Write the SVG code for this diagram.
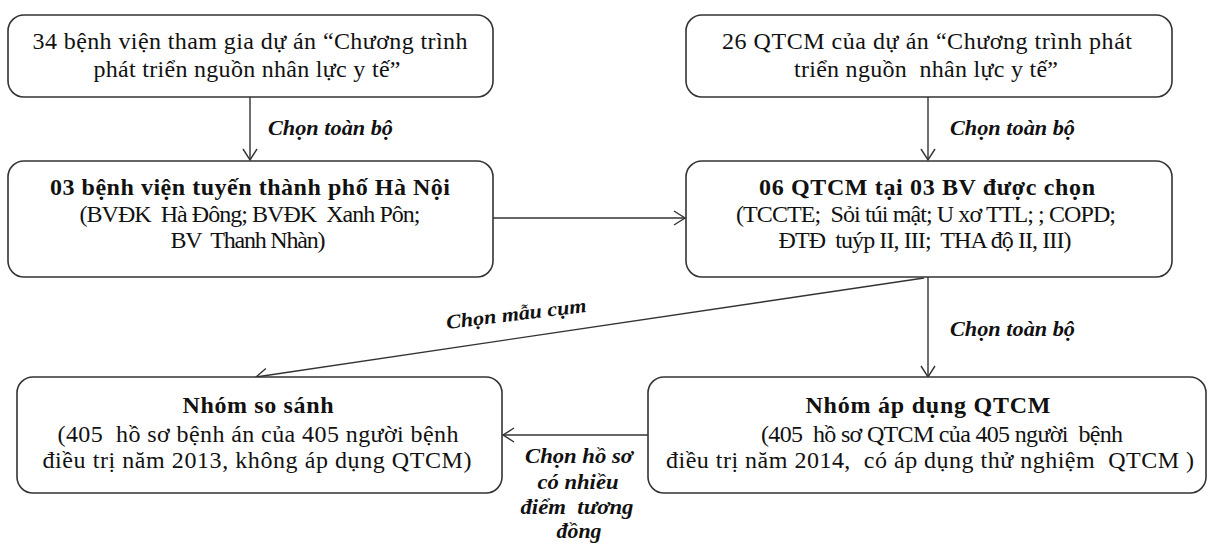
<svg xmlns="http://www.w3.org/2000/svg" width="1211" height="545" viewBox="0 0 1211 545">
<style>
.box{fill:#fff;stroke:#333;stroke-width:1.6}
.t{font-family:"Liberation Serif","Times New Roman",serif;font-size:24px;fill:#111;text-anchor:middle;white-space:pre}
.b{font-weight:bold}
.lbl{font-family:"Liberation Serif","Times New Roman",serif;font-size:20px;font-weight:bold;font-style:italic;fill:#111;white-space:pre}
.m{text-anchor:middle}
.c{fill:none;stroke:#333;stroke-width:1.4}
</style>
<defs>
<marker id="arr" markerUnits="userSpaceOnUse" markerWidth="14" markerHeight="16" refX="12" refY="8" orient="auto">
<path d="M1,1 L12,8 L1,15" fill="none" stroke="#333" stroke-width="1.4"/>
</marker>
</defs>
<rect width="1211" height="545" fill="#fff"/>
<g id="connectors">
<line class="c" x1="250" y1="97" x2="250" y2="160" marker-end="url(#arr)"/>
<line class="c" x1="928" y1="97" x2="928" y2="160" marker-end="url(#arr)"/>
<line class="c" x1="493" y1="218" x2="685" y2="218" marker-end="url(#arr)"/>
<line class="c" x1="928" y1="277" x2="928" y2="377" marker-end="url(#arr)"/>
<line class="c" x1="924" y1="278" x2="256" y2="377" marker-end="url(#arr)"/>
<line class="c" x1="648" y1="435" x2="503" y2="435" marker-end="url(#arr)"/>
<text class="lbl" x="268" y="135" textLength="125" lengthAdjust="spacingAndGlyphs">Chọn toàn bộ</text>
<text class="lbl" x="950" y="135" textLength="125" lengthAdjust="spacingAndGlyphs">Chọn toàn bộ</text>
<text class="lbl" x="950" y="336" textLength="125" lengthAdjust="spacingAndGlyphs">Chọn toàn bộ</text>
<text class="lbl" transform="translate(447,329) rotate(-7)" textLength="141" lengthAdjust="spacingAndGlyphs">Chọn mẫu cụm</text>
<text class="lbl m" x="579" y="463" textLength="108" lengthAdjust="spacingAndGlyphs">Chọn hồ sơ</text>
<text class="lbl m" x="578" y="489" textLength="81" lengthAdjust="spacingAndGlyphs">có nhiều</text>
<text class="lbl m" x="577" y="514" textLength="113" lengthAdjust="spacingAndGlyphs">điểm  tương</text>
<text class="lbl m" x="579" y="538" textLength="45" lengthAdjust="spacingAndGlyphs">đồng</text>
</g>
<g id="n1">
<rect class="box" x="8" y="15" width="485" height="82" rx="16"/>
<text class="t" x="250" y="49" textLength="435">34 bệnh viện tham gia dự án “Chương trình</text>
<text class="t" x="247" y="77" textLength="307">phát triển nguồn nhân lực y tế”</text>
</g>
<g id="n2">
<rect class="box" x="8" y="161" width="485" height="116" rx="16"/>
<text class="t b" x="250" y="195" textLength="400">03 bệnh viện tuyến thành phố Hà Nội</text>
<text class="t" x="250" y="222" textLength="341">(BVĐK  Hà Đông; BVĐK  Xanh Pôn;</text>
<text class="t" x="248" y="248" textLength="155">BV  Thanh Nhàn)</text>
</g>
<g id="n3">
<rect class="box" x="686" y="15" width="486" height="82" rx="16"/>
<text class="t" x="927" y="49" textLength="410">26 QTCM của dự án “Chương trình phát</text>
<text class="t" x="926" y="77" textLength="264">triển nguồn  nhân lực y tế”</text>
</g>
<g id="n4">
<rect class="box" x="686" y="161" width="486" height="116" rx="16"/>
<text class="t b" x="927" y="195" textLength="336">06 QTCM tại 03 BV được chọn</text>
<text class="t" x="926" y="222" textLength="380">(TCCTE;  Sỏi túi mật; U xơ TTL; ; COPD;</text>
<text class="t" x="925" y="248" textLength="293">ĐTĐ  tuýp II, III;  THA độ II, III)</text>
</g>
<g id="n5">
<rect class="box" x="17" y="377" width="485" height="116" rx="16"/>
<text class="t b" x="258" y="413" textLength="151">Nhóm so sánh</text>
<text class="t" x="258" y="442" textLength="401">(405  hồ sơ bệnh án của 405 người bệnh</text>
<text class="t" x="257" y="468" textLength="429">điều trị năm 2013, không áp dụng QTCM)</text>
</g>
<g id="n6">
<rect class="box" x="648" y="377" width="558" height="116" rx="16"/>
<text class="t b" x="928" y="413" textLength="245">Nhóm áp dụng QTCM</text>
<text class="t" x="942" y="442" textLength="362">(405  hồ sơ QTCM của 405 người  bệnh</text>
<text class="t" x="930" y="468" textLength="528">điều trị năm 2014,  có áp dụng thử nghiệm  QTCM )</text>
</g>
</svg>
